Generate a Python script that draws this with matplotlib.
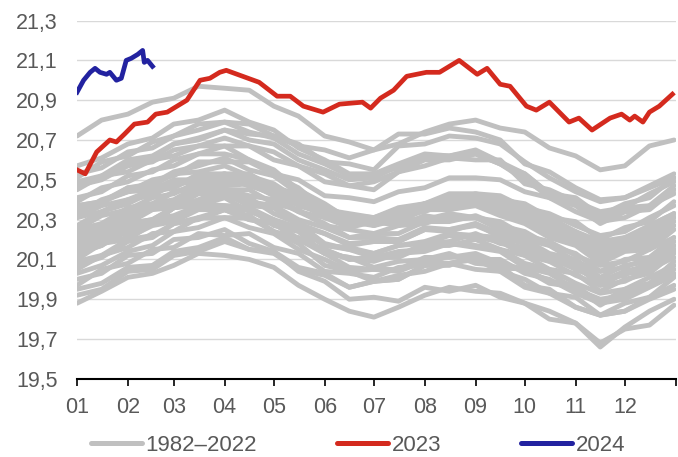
import matplotlib
matplotlib.use("Agg")
import matplotlib.pyplot as plt
from matplotlib.lines import Line2D
from matplotlib.ticker import FuncFormatter

plt.rcParams['font.family'] = ['Liberation Sans', 'DejaVu Sans']

# day-of-year sample points for the 1982-2022 lines
days = [0, 15, 31, 46, 59, 74, 90, 105, 120, 135, 151, 166, 181, 196, 212, 227,
        243, 258, 273, 288, 304, 319, 334, 349, 364]

y1982 = [19.92,19.95,20.04,20.05,20.12,20.14,20.19,20.15,20.13,20.05,20.02,19.96,19.99,20.00,20.07,20.08,20.11,20.06,20.05,19.98,19.96,19.88,19.94,19.97,20.05]
y1983 = [20.10,20.18,20.20,20.28,20.30,20.38,20.37,20.36,20.27,20.24,20.13,20.11,20.06,20.09,20.10,20.13,20.08,20.07,19.97,19.95,19.86,19.82,19.84,19.90,19.95]
y1984 = [20.00,20.03,20.12,20.13,20.20,20.21,20.25,20.18,20.14,20.04,19.99,19.90,19.91,19.89,19.96,19.94,19.97,19.91,19.88,19.80,19.78,19.68,19.75,19.77,19.87]
y1985 = [19.88,19.94,20.01,20.03,20.07,20.13,20.12,20.10,20.06,19.97,19.90,19.84,19.81,19.86,19.92,19.96,19.94,19.93,19.88,19.84,19.78,19.66,19.76,19.84,19.90]
y1986 = [19.95,19.98,20.06,20.07,20.14,20.16,20.21,20.15,20.14,20.06,20.03,19.96,19.99,20.00,20.07,20.07,20.12,20.06,20.05,19.99,19.97,19.88,19.95,19.98,20.09]
y1987 = [20.13,20.17,20.25,20.28,20.36,20.38,20.43,20.37,20.36,20.27,20.23,20.17,20.19,20.19,20.25,20.24,20.28,20.21,20.18,20.10,20.07,19.97,20.03,20.04,20.14]
y1988 = [20.15,20.21,20.23,20.29,20.30,20.36,20.35,20.32,20.24,20.18,20.07,20.04,19.99,20.02,20.04,20.08,20.05,20.04,19.96,19.93,19.86,19.82,19.84,19.91,19.97]
y1989 = [19.97,20.05,20.08,20.15,20.16,20.23,20.22,20.23,20.16,20.13,20.04,20.03,20.01,20.06,20.07,20.12,20.10,20.10,20.03,20.00,19.93,19.88,19.90,19.96,20.02]
y1990 = [20.07,20.11,20.19,20.21,20.28,20.30,20.35,20.30,20.28,20.20,20.15,20.10,20.11,20.11,20.17,20.17,20.20,20.15,20.12,20.05,20.03,19.94,20.00,20.03,20.13]
y1991 = [20.11,20.18,20.21,20.27,20.29,20.35,20.35,20.35,20.28,20.25,20.17,20.15,20.13,20.17,20.19,20.23,20.22,20.21,20.14,20.11,20.05,20.00,20.02,20.09,20.15]
y1992 = [20.19,20.22,20.28,20.30,20.36,20.37,20.41,20.34,20.30,20.20,20.13,20.06,20.05,20.04,20.09,20.08,20.10,20.04,20.00,19.93,19.91,19.82,19.88,19.91,20.01]
y1993 = [20.03,20.07,20.14,20.17,20.24,20.26,20.31,20.26,20.23,20.15,20.10,20.04,20.05,20.05,20.11,20.11,20.13,20.08,20.05,19.99,19.96,19.87,19.94,19.97,20.07]
y1994 = [20.09,20.12,20.20,20.22,20.28,20.31,20.35,20.30,20.28,20.20,20.15,20.10,20.11,20.12,20.18,20.19,20.23,20.18,20.16,20.09,20.07,19.98,20.04,20.07,20.17]
y1995 = [20.17,20.24,20.28,20.35,20.36,20.43,20.43,20.41,20.33,20.28,20.18,20.15,20.11,20.14,20.15,20.18,20.16,20.14,20.06,20.03,19.95,19.90,19.92,19.97,20.03]
y1996 = [20.05,20.12,20.16,20.23,20.24,20.31,20.31,20.31,20.24,20.21,20.13,20.11,20.09,20.13,20.14,20.18,20.17,20.15,20.08,20.05,19.98,19.93,19.95,20.01,20.07]
y1997 = [20.13,20.17,20.26,20.29,20.36,20.40,20.45,20.42,20.40,20.34,20.31,20.26,20.29,20.30,20.38,20.39,20.43,20.40,20.38,20.31,20.29,20.20,20.26,20.29,20.39]
y1998 = [20.41,20.44,20.52,20.54,20.60,20.63,20.67,20.60,20.55,20.45,20.38,20.30,20.29,20.27,20.32,20.30,20.31,20.25,20.20,20.12,20.09,19.99,20.04,20.06,20.15]
y1999 = [20.15,20.22,20.24,20.30,20.32,20.37,20.37,20.36,20.30,20.26,20.17,20.16,20.13,20.17,20.18,20.22,20.21,20.19,20.12,20.09,20.02,19.97,19.99,20.05,20.11]
y2000 = [20.15,20.19,20.26,20.29,20.36,20.38,20.43,20.38,20.36,20.28,20.23,20.18,20.19,20.19,20.25,20.25,20.28,20.23,20.20,20.13,20.10,20.01,20.07,20.09,20.19]
y2001 = [20.23,20.27,20.34,20.37,20.44,20.46,20.51,20.47,20.44,20.37,20.33,20.27,20.29,20.29,20.35,20.35,20.38,20.33,20.30,20.23,20.19,20.10,20.16,20.17,20.27]
y2002 = [20.27,20.34,20.38,20.44,20.46,20.53,20.53,20.53,20.46,20.43,20.35,20.33,20.31,20.35,20.38,20.42,20.41,20.41,20.34,20.31,20.24,20.19,20.21,20.27,20.33]
y2003 = [20.37,20.39,20.46,20.47,20.53,20.54,20.57,20.52,20.48,20.40,20.35,20.28,20.29,20.30,20.36,20.37,20.41,20.36,20.34,20.27,20.23,20.14,20.20,20.21,20.31]
y2004 = [20.31,20.37,20.40,20.45,20.46,20.52,20.51,20.51,20.44,20.41,20.33,20.31,20.29,20.33,20.36,20.40,20.39,20.39,20.32,20.29,20.22,20.17,20.19,20.25,20.31]
y2005 = [20.35,20.38,20.46,20.48,20.54,20.57,20.61,20.55,20.52,20.43,20.37,20.31,20.31,20.30,20.36,20.35,20.37,20.32,20.28,20.21,20.17,20.08,20.14,20.15,20.25]
y2006 = [20.25,20.32,20.35,20.41,20.43,20.49,20.49,20.49,20.42,20.39,20.31,20.29,20.27,20.32,20.34,20.39,20.39,20.38,20.32,20.29,20.23,20.18,20.20,20.27,20.33]
y2007 = [20.37,20.39,20.44,20.45,20.50,20.50,20.53,20.47,20.43,20.34,20.28,20.21,20.21,20.20,20.26,20.25,20.27,20.22,20.18,20.11,20.07,19.98,20.04,20.05,20.15]
y2008 = [20.17,20.20,20.28,20.30,20.36,20.39,20.43,20.39,20.37,20.30,20.26,20.21,20.23,20.23,20.29,20.29,20.32,20.27,20.24,20.17,20.13,20.04,20.10,20.11,20.21]
y2009 = [20.21,20.28,20.32,20.38,20.40,20.47,20.47,20.48,20.42,20.40,20.33,20.32,20.31,20.36,20.38,20.43,20.43,20.42,20.36,20.33,20.27,20.22,20.24,20.31,20.37]
y2010 = [20.39,20.46,20.49,20.55,20.57,20.63,20.63,20.60,20.52,20.46,20.35,20.32,20.27,20.30,20.30,20.33,20.31,20.28,20.20,20.17,20.09,20.04,20.06,20.11,20.17]
y2011 = [20.19,20.26,20.30,20.36,20.38,20.45,20.45,20.45,20.38,20.35,20.27,20.25,20.23,20.27,20.28,20.32,20.31,20.29,20.22,20.19,20.12,20.07,20.09,20.15,20.21]
y2012 = [20.25,20.28,20.36,20.38,20.44,20.47,20.51,20.47,20.45,20.38,20.34,20.29,20.31,20.31,20.37,20.37,20.40,20.35,20.32,20.25,20.21,20.12,20.18,20.19,20.29]
y2013 = [20.31,20.34,20.40,20.42,20.48,20.49,20.53,20.49,20.46,20.39,20.35,20.29,20.31,20.31,20.38,20.38,20.41,20.37,20.34,20.27,20.24,20.15,20.21,20.23,20.33]
y2014 = [20.33,20.40,20.44,20.50,20.52,20.59,20.59,20.59,20.53,20.50,20.42,20.41,20.39,20.44,20.46,20.51,20.51,20.50,20.44,20.41,20.34,20.29,20.31,20.37,20.43]
y2015 = [20.47,20.51,20.58,20.61,20.68,20.70,20.75,20.73,20.72,20.67,20.65,20.61,20.65,20.68,20.74,20.78,20.80,20.76,20.74,20.66,20.62,20.55,20.57,20.67,20.70]
y2016 = [20.72,20.80,20.83,20.89,20.91,20.97,20.96,20.95,20.87,20.82,20.72,20.69,20.65,20.73,20.73,20.76,20.74,20.70,20.58,20.54,20.46,20.40,20.41,20.46,20.51]
y2017 = [20.53,20.56,20.64,20.66,20.72,20.75,20.79,20.74,20.71,20.63,20.58,20.52,20.53,20.56,20.62,20.61,20.63,20.58,20.50,20.42,20.39,20.29,20.34,20.36,20.45]
y2018 = [20.45,20.52,20.54,20.60,20.62,20.67,20.67,20.67,20.60,20.57,20.49,20.47,20.45,20.54,20.57,20.61,20.60,20.60,20.48,20.45,20.39,20.34,20.36,20.43,20.49]
y2019 = [20.51,20.59,20.62,20.69,20.72,20.78,20.79,20.78,20.72,20.68,20.59,20.58,20.55,20.67,20.68,20.72,20.71,20.68,20.59,20.51,20.44,20.39,20.41,20.47,20.53]
y2020 = [20.57,20.61,20.68,20.71,20.78,20.80,20.85,20.79,20.75,20.66,20.60,20.53,20.53,20.58,20.63,20.62,20.64,20.58,20.51,20.41,20.37,20.28,20.34,20.35,20.45]
y2021 = [20.47,20.50,20.57,20.59,20.65,20.67,20.71,20.67,20.64,20.57,20.53,20.47,20.49,20.54,20.60,20.60,20.63,20.58,20.53,20.43,20.39,20.30,20.36,20.37,20.47]
y2022 = [20.49,20.52,20.60,20.62,20.68,20.71,20.75,20.70,20.68,20.60,20.55,20.50,20.51,20.57,20.62,20.62,20.65,20.59,20.53,20.43,20.41,20.32,20.38,20.41,20.51]

history = [y1982, y1983, y1984, y1985, y1986, y1987, y1988, y1989, y1990, y1991,
           y1992, y1993, y1994, y1995, y1996, y1997, y1998, y1999, y2000, y2001,
           y2002, y2003, y2004, y2005, y2006, y2007, y2008, y2009, y2010, y2011,
           y2012, y2013, y2014, y2015, y2016, y2017, y2018, y2019, y2020, y2021,
           y2022]

days_2023 = [0, 5, 12, 20, 24, 29, 35, 43, 48, 55, 61, 67, 75, 81, 87, 91, 101, 111,
             122, 130, 138, 150, 160, 174, 179, 185, 193, 201, 213, 221, 227, 233,
             244, 250, 258, 264, 274, 280, 288, 300, 306, 314, 325, 332, 337, 340,
             345, 349, 355, 363]
vals_2023 = [20.55, 20.53, 20.64, 20.70, 20.69, 20.73, 20.78, 20.79, 20.83, 20.84,
             20.87, 20.90, 21.00, 21.01, 21.04, 21.05, 21.02, 20.99, 20.92, 20.92,
             20.87, 20.84, 20.88, 20.89, 20.86, 20.91, 20.95, 21.02, 21.04, 21.04,
             21.07, 21.10, 21.03, 21.06, 20.98, 20.97, 20.87, 20.85, 20.89, 20.79,
             20.81, 20.75, 20.81, 20.83, 20.80, 20.82, 20.79, 20.84, 20.87, 20.93]

days_2024 = [0, 4, 8, 11, 14, 18, 20, 24, 27, 30, 33, 37, 40, 41, 43, 46]
vals_2024 = [20.94, 21.00, 21.04, 21.06, 21.04, 21.03, 21.04, 21.00, 21.01, 21.10,
             21.11, 21.13, 21.15, 21.09, 21.10, 21.07]

month_starts = [0, 31, 59, 90, 120, 151, 181, 212, 243, 273, 304, 334, 365]
month_labels = ['01', '02', '03', '04', '05', '06', '07', '08', '09', '10', '11', '12', '']
y_ticks = [19.5, 19.7, 19.9, 20.1, 20.3, 20.5, 20.7, 20.9, 21.1, 21.3]
legend_labels = ['1982–2022', '2023', '2024']

GRAY = '#c0c0c0'
RED = '#d42a1e'
BLUE = '#2222a0'
TXT = '#595959'

fig = plt.figure(figsize=(6.78, 4.57), dpi=100)
ax = fig.add_axes([0.1136, 0.171, 0.883, 0.784])

for series in history:
    ax.plot(days, series, color=GRAY, lw=3.5, solid_joinstyle='round',
            solid_capstyle='round', zorder=2)
ax.plot(days_2023, vals_2023, color=RED, lw=3.4, solid_joinstyle='round', zorder=3)
ax.plot(days_2024, vals_2024, color=BLUE, lw=3.4, solid_joinstyle='round', zorder=4)

ax.set_xlim(0, 365)
ax.set_ylim(19.5, 21.3)
ax.set_yticks(y_ticks)
ax.yaxis.set_major_formatter(FuncFormatter(lambda v, p: f"{v:.1f}".replace('.', ',')))
ax.set_xticks(month_starts)
ax.set_xticklabels(month_labels)

ax.grid(axis='y', color='#d9d9d9', lw=1.0, zorder=0)
ax.set_axisbelow(True)
for s in ['left', 'right', 'top']:
    ax.spines[s].set_visible(False)
ax.spines['bottom'].set_color('black')
ax.spines['bottom'].set_linewidth(1.5)
ax.spines['bottom'].set_zorder(5)

ax.tick_params(axis='y', length=0, pad=14, labelsize=15.5, labelcolor=TXT)
ax.tick_params(axis='x', length=5, width=1.2, color='black', direction='out',
               pad=8, labelsize=15.5, labelcolor=TXT)

handles = [Line2D([], [], color=c, lw=3.6, solid_capstyle='round') for c in (GRAY, RED, BLUE)]
leg = fig.legend(handles, legend_labels, loc='center', ncol=3,
                 bbox_to_anchor=(0.528, 0.025), frameon=False, fontsize=16,
                 handlelength=2.3, handletextpad=0.15, columnspacing=3.6,
                 borderpad=0, borderaxespad=0)
for t in leg.get_texts():
    t.set_color(TXT)

fig.savefig('out.png', dpi=100)
